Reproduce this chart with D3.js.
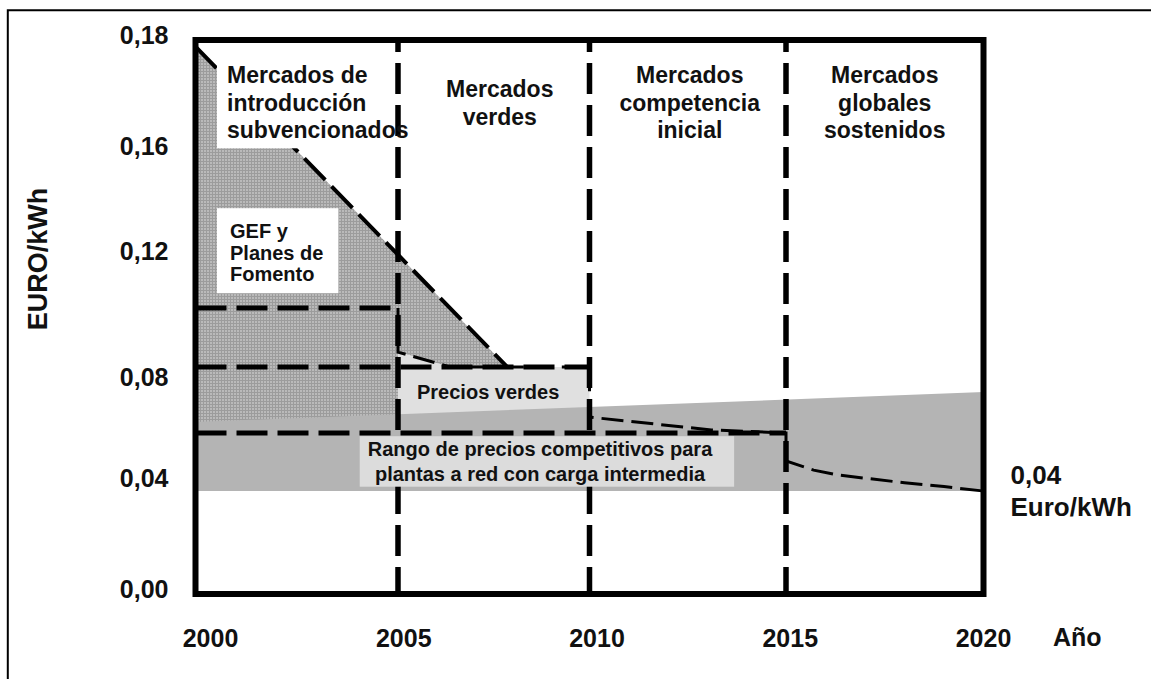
<!DOCTYPE html>
<html>
<head>
<meta charset="utf-8">
<script src="https://cdn.jsdelivr.net/npm/d3@7"></script>
<style>
  body { margin: 0; background: #fff; }
  svg text { font-family: "Liberation Sans", Arial, sans-serif; font-weight: bold; fill: #111; }
</style>
</head>
<body>
<svg id="chart" width="1151" height="679"></svg>
<script>
// market phases
const phaseYears = [2000, 2005, 2010, 2015, 2020];
const phaseLabels = [
  ["Mercados de", "introducción", "subvencionados"],
  ["Mercados", "verdes"],
  ["Mercados", "competencia", "inicial"],
  ["Mercados", "globales", "sostenidos"]
];
const yTicks = [0, 0.04, 0.08, 0.12, 0.16, 0.18];

// subsidised introduction price (diagonal)
const subsidyYears = [2000, 2002.51, 2005, 2007.85];
const subsidyPrice = [0.1788, 0.16, 0.1205, 0.0848];

// support levels (thick dashed horizontals)
const levelValues = [0.1035, 0.0848, 0.0598];
const levelEnds = [2005, 2010, 2015];

// market price curve
const priceYears = [2005, 2005, 2006.35, 2010, 2010, 2013.1, 2015, 2015, 2015.7, 2016.3, 2017, 2018, 2019, 2020];
const priceValues = [0.1035, 0.0895, 0.0848, 0.0848, 0.0661, 0.0610, 0.0598, 0.0487, 0.0451, 0.0432, 0.0419, 0.0401, 0.0387, 0.0371];

// competitive price range
const bandYears = [2000, 2020];
const bandLow = [0.0371, 0.0371];
const bandHigh = [0.0642, 0.0760];

const svg = d3.select('#chart');

// the original axes are hand drawn, so both scales are piecewise
const x = d3.scaleLinear().domain(phaseYears).range([195.5, 398, 589.5, 786, 983.5]);
const y = d3.scaleLinear().domain(yTicks).range([594, 483, 382, 256, 151, 40]);
const xLab = d3.scaleLinear().domain([2000, 2020]).range([210, 983]);

const defs = svg.append('defs');
const pat = defs.append('pattern')
  .attr('id', 'dots').attr('width', 3).attr('height', 3)
  .attr('patternUnits', 'userSpaceOnUse');
pat.append('rect').attr('width', 3).attr('height', 3).attr('fill', '#9c9c9c');
pat.append('rect').attr('width', 2).attr('height', 2).attr('fill', '#bababa');

// outer page frame
svg.append('path')
  .attr('d', 'M7.8,679V10.2H1151')
  .attr('fill', 'none').attr('stroke', '#000').attr('stroke-width', 2);

const gFill = svg.append('g');
const gDiag = svg.append('g');
const gBoxes = svg.append('g');
const gVert = svg.append('g');
const gRango = svg.append('g');
const gHoriz = svg.append('g');
const gPrice = svg.append('g');
const gFrame = svg.append('g');
const gText = svg.append('g');

const pts = (xs, ys) => xs.map((d, i) => [d, ys[i]]);
const line = d3.line().x(d => x(d[0])).y(d => y(d[1]));

const subsidy = pts(subsidyYears, subsidyPrice);
const price = pts(priceYears, priceValues);

// dotted subsidised area
const dotted = subsidy.concat([price[2], price[1], [2005, bandLow[0]], [2000, bandLow[0]]]);
gFill.append('path')
  .attr('d', line(dotted) + 'Z')
  .attr('fill', 'url(#dots)');

// green prices area
const green = [price[1], price[2], price[3], [2010, bandLow[0]], [2005, bandLow[0]]];
gFill.append('path')
  .attr('d', line(green) + 'Z')
  .attr('fill', '#e0e0e0');

// competitive band
const band = bandYears.map((d, i) => [d, bandLow[i], bandHigh[i]]);
gFill.append('path')
  .attr('d', d3.area().x(d => x(d[0])).y0(d => y(d[1])).y1(d => y(d[2]))(band))
  .attr('fill', '#b4b4b4');

// diagonal
gDiag.append('path')
  .attr('d', line(subsidy))
  .attr('fill', 'none').attr('stroke', '#000').attr('stroke-width', 4)
  .attr('stroke-dasharray', '30,9');

// vertical phase boundaries
gVert.selectAll('line')
  .data(phaseYears.slice(1, -1))
  .join('line')
    .attr('x1', d => x(d)).attr('x2', d => x(d))
    .attr('y1', y(0.18)).attr('y2', y(0))
    .attr('stroke', '#000').attr('stroke-width', 5.5)
    .attr('stroke-dasharray', '31,11').attr('stroke-dashoffset', 19);

// horizontal support levels
gHoriz.selectAll('line')
  .data(levelValues)
  .join('line')
    .attr('x1', x(2000)).attr('x2', (d, i) => x(levelEnds[i]))
    .attr('y1', d => y(d)).attr('y2', d => y(d))
    .attr('stroke', '#000').attr('stroke-width', 5)
    .attr('stroke-dasharray', '31,10');

// price curve
gPrice.append('path')
  .attr('d', line(price))
  .attr('fill', 'none').attr('stroke', '#000').attr('stroke-width', 3)
  .attr('stroke-dasharray', '22,8');

// plot frame
gFrame.append('rect')
  .attr('x', x(2000)).attr('y', y(0.18))
  .attr('width', x(2020) - x(2000)).attr('height', y(0) - y(0.18))
  .attr('fill', 'none').attr('stroke', '#000').attr('stroke-width', 6);

// phase labels
const labelShift = [0, 6, 2, 0];
phaseLabels.forEach((lines, k) => {
  const first = k === 0;
  const cx = first ? x(phaseYears[0]) + 31.5 : (x(phaseYears[k]) + x(phaseYears[k + 1])) / 2 + labelShift[k];
  const t = gText.append('text')
    .attr('text-anchor', first ? 'start' : 'middle')
    .attr('font-size', 23);
  lines.forEach((s, i) => {
    t.append('tspan')
      .attr('x', cx)
      .attr('y', y(0.18) + 62.5 + (i - (lines.length - 1) / 2) * 27.5)
      .attr('dy', '0.36em')
      .text(s);
  });
  if (first) {
    const b = t.node().getBBox();
    gBoxes.append('rect')
      .attr('x', b.x - 10).attr('y', y(0.18))
      .attr('width', b.width + 12).attr('height', b.y + b.height + 5 - y(0.18))
      .attr('fill', '#fff');
  }
});

// GEF label
const gef = gText.append('text').attr('font-size', 20);
['GEF y', 'Planes de', 'Fomento'].forEach((s, i) => {
  gef.append('tspan')
    .attr('x', x(2000) + 34.5)
    .attr('y', y(0.12) - 25 + i * 21.5)
    .attr('dy', '0.36em')
    .text(s);
});
{
  const b = gef.node().getBBox();
  gBoxes.append('rect')
    .attr('x', b.x - 13).attr('y', b.y - 12)
    .attr('width', b.width + 28).attr('height', b.height + 20)
    .attr('fill', '#fff');
}

// Precios verdes
gText.append('text')
  .attr('font-size', 20)
  .attr('x', x(2005) + 19).attr('y', y(0.0848) + 25)
  .attr('dy', '0.36em')
  .text('Precios verdes');

// Rango de precios
const rango = gText.append('text').attr('font-size', 20).attr('text-anchor', 'middle');
['Rango de precios competitivos para', 'plantas a red con carga intermedia'].forEach((s, i) => {
  rango.append('tspan')
    .attr('x', 540)
    .attr('y', y(levelValues[2]) + 16 + i * 25)
    .attr('dy', '0.36em')
    .text(s);
});
{
  const b = rango.node().getBBox();
  gRango.append('rect')
    .attr('x', b.x - 8).attr('y', b.y - 2)
    .attr('width', b.width + 29).attr('height', b.height + 3.5)
    .attr('fill', '#dcdcdc');
}

// end value label
const endY = y(priceValues[priceValues.length - 1]);
gText.append('text').attr('font-size', 26)
  .attr('x', x(2020) + 27).attr('y', endY - 16).attr('dy', '0.36em').text('0,04');
gText.append('text').attr('font-size', 26)
  .attr('x', x(2020) + 27).attr('y', endY + 16).attr('dy', '0.36em').text('Euro/kWh');

// y axis
const axisY = svg.append('g')
  .attr('transform', `translate(${x(2000)},0)`)
  .call(d3.axisLeft(y).tickValues(yTicks).tickSize(0).tickPadding(27)
    .tickFormat(d => d3.format('.2f')(d).replace('.', ',')))
  .call(g => g.select('.domain').remove());
axisY.selectAll('text')
  .attr('font-size', 25).attr('font-family', null).attr('fill', null)
  .attr('dy', '0.15em');
axisY.attr('font-family', null).attr('font-size', null);

// x axis labels
const axisX = svg.append('g')
  .attr('transform', `translate(0,${y(0)})`)
  .call(d3.axisBottom(xLab).tickValues(phaseYears).tickSize(0).tickPadding(35)
    .tickFormat(d3.format('d')))
  .call(g => g.select('.domain').remove());
axisX.selectAll('text')
  .attr('font-size', 25).attr('font-family', null).attr('fill', null);
axisX.attr('font-family', null).attr('font-size', null);

svg.append('text')
  .attr('font-size', 25)
  .attr('x', xLab(2020) + 70).attr('y', 637).attr('dy', '0.36em')
  .text('Año');

svg.append('text')
  .attr('font-size', 27)
  .attr('text-anchor', 'middle')
  .attr('transform', 'translate(37,259) rotate(-90)')
  .attr('dy', '0.36em')
  .text('EURO/kWh');
</script>
</body>
</html>
